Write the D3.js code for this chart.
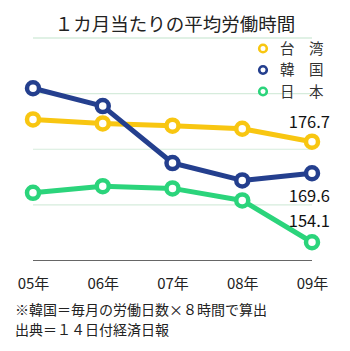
<!DOCTYPE html>
<html>
<head>
<meta charset="utf-8">
<script src="https://cdn.jsdelivr.net/npm/d3@7"></script>
<style>
  html, body { margin: 0; padding: 0; background: #fff; }
  svg { display: block; font-family: "Noto Sans CJK JP", "Noto Sans", sans-serif; }
</style>
</head>
<body>
<svg id="chart" width="350" height="351"></svg>
<script>
// Average monthly working hours, 2005–2009
const years = ["05年", "06年", "07年", "08年", "09年"];
const taiwan = [181.7, 180.8, 180.3, 179.6, 176.7];
const korea  = [188.7, 184.7, 171.9, 168.0, 169.6];
const japan  = [165.2, 166.7, 166.2, 163.5, 154.1];
const seriesNames = ["台　湾", "韓　国", "日　本"];
const seriesColors = ["#f8c611", "#243f8e", "#2bd47b"];
const gridValues = [162.5, 175, 187.5];
const endLabels = ["176.7", "169.6", "154.1"];

const series = [taiwan, korea, japan].map((values, i) => ({
  name: seriesNames[i], color: seriesColors[i], values, label: endLabels[i]
}));

const svg = d3.select("#chart");

const x = d3.scalePoint().domain(years).range([33, 312]);
const y = d3.scaleLinear().domain([150, 200]).range([260.5, 38]);

// Title and rule under it
svg.append("text")
  .attr("x", 175).attr("y", 31)
  .attr("text-anchor", "middle")
  .attr("font-size", 18.5)
  .attr("fill", "#222")
  .text("１カ月当たりの平均労働時間");

svg.append("line")
  .attr("x1", 33).attr("x2", 312)
  .attr("y1", y(200)).attr("y2", y(200))
  .attr("stroke", "#d6ecdc").attr("stroke-width", 1.5);

// Horizontal grid
svg.append("g").selectAll("line").data(gridValues).join("line")
  .attr("x1", 33).attr("x2", 312)
  .attr("y1", d => y(d)).attr("y2", d => y(d))
  .attr("stroke", "#d6ecdc").attr("stroke-width", 1.2);

// Bottom axis
const xAxis = svg.append("g")
  .attr("transform", `translate(0,${y(150)})`)
  .call(d3.axisBottom(x).tickSize(0).tickPadding(18));
xAxis.select(".domain").attr("stroke", "#666").attr("stroke-width", 1.2)
  .attr("d", "M33,0H312");
xAxis.selectAll("text")
  .attr("font-size", 15)
  .attr("fill", "#222")
  .attr("font-family", "\"Noto Sans CJK JP\", sans-serif");

// Lines and markers
const line = d3.line().x((d, i) => x(years[i])).y(d => y(d));

series.forEach(s => {
  svg.append("path")
    .datum(s.values)
    .attr("d", line)
    .attr("fill", "none")
    .attr("stroke", s.color)
    .attr("stroke-width", 5)
    .attr("stroke-linejoin", "round");
});
series.forEach(s => {
  svg.append("g").selectAll("circle").data(s.values).join("circle")
    .attr("cx", (d, i) => x(years[i]))
    .attr("cy", d => y(d))
    .attr("r", 6)
    .attr("fill", "#fff")
    .attr("stroke", s.color)
    .attr("stroke-width", 4.5);
});

// End-value labels
const labelOffsets = [-14, 29, -15];
series.forEach((s, i) => {
  const last = s.values[s.values.length - 1];
  svg.append("text")
    .attr("x", 330)
    .attr("y", y(last) + labelOffsets[i])
    .attr("text-anchor", "end")
    .attr("font-size", 16.5)
    .attr("fill", "#111")
    .text(s.label);
});

// Legend
const legend = svg.append("g");
series.forEach((s, i) => {
  const ly = 48.5 + i * 21.5;
  legend.append("circle")
    .attr("cx", 263).attr("cy", ly).attr("r", 3.8)
    .attr("fill", "#fff").attr("stroke", s.color).attr("stroke-width", 2.6);
  legend.append("text")
    .attr("x", 280).attr("y", ly + 5)
    .attr("font-size", 14.5)
    .attr("fill", "#333")
    .text(s.name);
});

// Notes
svg.append("text")
  .attr("x", 15).attr("y", 315)
  .attr("font-size", 14)
  .attr("fill", "#222")
  .text("※韓国＝毎月の労働日数×８時間で算出");
svg.append("text")
  .attr("x", 15).attr("y", 335)
  .attr("font-size", 14)
  .attr("fill", "#222")
  .text("出典＝１４日付経済日報");
</script>
</body>
</html>
